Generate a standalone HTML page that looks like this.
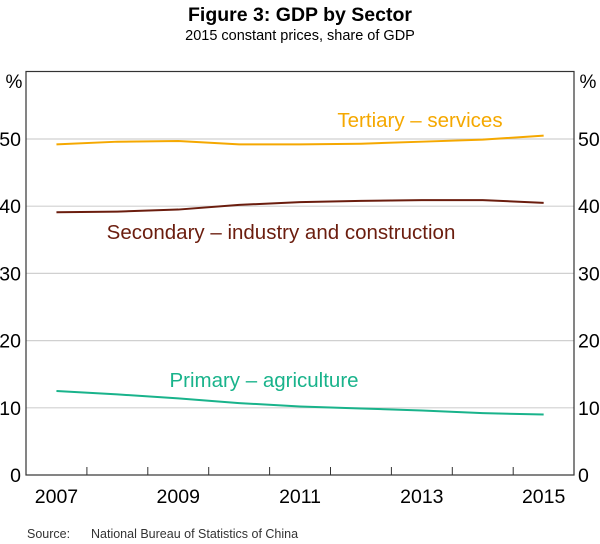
<!DOCTYPE html>
<html><head><meta charset="utf-8"><style>
body{margin:0;background:#fff;}
svg{display:block;font-family:"Liberation Sans",Arial,sans-serif;}
</style></head><body>
<svg id="chart" width="600" height="544">
<text x="300" y="21" text-anchor="middle" font-size="19.5" font-weight="bold" fill="#000">Figure 3: GDP by Sector</text>
<text x="300" y="40" text-anchor="middle" font-size="14.5" fill="#000">2015 constant prices, share of GDP</text>
<g id="grid"></g>
<g id="lines"></g>
<rect x="26" y="71.5" width="548" height="403.5" fill="none" stroke="#333" stroke-width="1.2"/>
<g id="axes"></g>
<text x="14" y="88" text-anchor="middle" font-size="19">%</text>
<text x="588" y="88" text-anchor="middle" font-size="19">%</text>
<text x="420" y="127" text-anchor="middle" font-size="20.5" fill="#f5a800">Tertiary – services</text>
<text x="281" y="239" text-anchor="middle" font-size="20.5" fill="#6b1d0e">Secondary – industry and construction</text>
<text x="264" y="387" text-anchor="middle" font-size="20.5" fill="#19b38b">Primary – agriculture</text>
<text x="27" y="538" font-size="12.5" fill="#333">Source:</text>
<text x="91" y="538" font-size="12.5" fill="#333">National Bureau of Statistics of China</text>
</svg>
<script>
const years=[2007,2008,2009,2010,2011,2012,2013,2014,2015];
const tertiary=[49.2,49.6,49.7,49.2,49.2,49.3,49.6,49.9,50.5];
const secondary=[39.1,39.2,39.5,40.2,40.6,40.8,40.9,40.9,40.5];
const primary=[12.5,12.0,11.4,10.7,10.2,9.9,9.6,9.2,9.0];
const yTicks=[0,10,20,30,40,50];
const xLabels=[2007,2009,2011,2013,2015];
const NS="http://www.w3.org/2000/svg";
const x0=26,yw=60.9,yb=475,ppu=6.72;
function xs(yr){return x0+(yr-2007+0.5)*yw;}
function ys(v){return yb-v*ppu;}
const grid=document.getElementById('grid'),axes=document.getElementById('axes'),lines=document.getElementById('lines');
function mk(tag,attrs,parent){const e=document.createElementNS(NS,tag);for(const k in attrs)e.setAttribute(k,attrs[k]);parent.appendChild(e);return e;}
yTicks.forEach(v=>{
 if(v>0){const g=mk('line',{x1:26,x2:574,y1:ys(v),y2:ys(v),stroke:'#d0d0d0','stroke-width':1.2},grid);
 
 }
 const l=mk('text',{x:21,y:ys(v)+7,'text-anchor':'end','font-size':19.5},axes);l.textContent=v;
 
 
 const r=mk('text',{x:578,y:ys(v)+7,'font-size':19.5},axes);r.textContent=v;
 
 
});
for(let i=1;i<years.length;i++){
 const t=mk('line',{x1:x0+i*yw,x2:x0+i*yw,y1:yb,y2:yb-8,stroke:'#333','stroke-width':1},axes);
 
 
}
xLabels.forEach(yr=>{
 const t=mk('text',{x:xs(yr),y:503,'text-anchor':'middle','font-size':19.5},axes);t.textContent=yr;
 
 
});
[[tertiary,'#f5a800','tertiary-line'],[secondary,'#6b1d0e','secondary-line'],[primary,'#19b38b','primary-line']].forEach(([d,c,n])=>{
 const p=mk('polyline',{points:d.map((v,i)=>xs(years[i])+','+ys(v)).join(' '),fill:'none',stroke:c,'stroke-width':2,'stroke-linejoin':'round'},lines);
 
 
});
</script>
</body></html>
